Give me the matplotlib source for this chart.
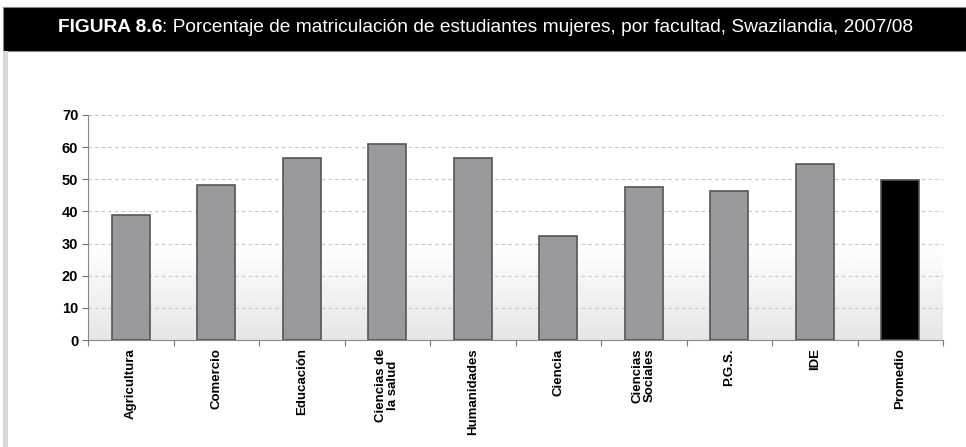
import numpy as np
import matplotlib
matplotlib.use('Agg')
import matplotlib.pyplot as plt
from matplotlib.patches import Rectangle

# datos
facultades = ['Agricultura', 'Comercio', 'Educación', 'Ciencias de\nla salud', 'Humanidades',
              'Ciencia', 'Ciencias\nSociales', 'P.G.S.', 'IDE', 'Promedio']
porcentajes = [39, 48.1, 56.6, 61.0, 56.6, 32.4, 47.5, 46.5, 54.8, 49.7]
colores = ['#9a9a9c'] * 9 + ['#000000']
yticks = [0, 10, 20, 30, 40, 50, 60, 70]

plt.rcParams['font.family'] = ['Liberation Sans', 'DejaVu Sans']

fig = plt.figure(figsize=(9.66, 4.47), dpi=100)
fig.patch.set_facecolor('white')

# cabecera negra
fig.patches.append(Rectangle((3 / 966, 1 - 51 / 447), 963 / 966, 44 / 447,
                             transform=fig.transFigure, facecolor='black', edgecolor='#888888', lw=0.8))
# borde izquierdo gris
fig.patches.append(Rectangle((3 / 966, 0), 5 / 966, 1 - 51 / 447,
                             transform=fig.transFigure, facecolor='#d8d8d8', edgecolor='none'))
t1 = fig.text(58 / 966, 1 - 28 / 447, 'FIGURA 8.6', color='white', fontsize=13.8,
              fontweight='bold', va='center')
fig.canvas.draw()
bb = t1.get_window_extent()
fig.text(bb.x1 / 966, 1 - 28 / 447,
         ': Porcentaje de matriculación de estudiantes mujeres, por facultad, Swazilandia, 2007/08',
         color='white', fontsize=13.8, va='center')

ax = fig.add_axes([88 / 966, 1 - 340 / 447, 855 / 966, 225 / 447])
x = np.arange(len(facultades))

# fondo degradado
grad = np.ones((100, 1))
yy = np.linspace(0, 70, 100)
grad[:, 0] = np.where(yy < 30, 0.90 + 0.10 * yy / 30, 1.0)
ax.imshow(grad, extent=(-0.5, len(facultades) - 0.5, 0, 70), origin='lower', aspect='auto',
          cmap='gray', vmin=0, vmax=1, zorder=0)

ax.bar(x, porcentajes, width=0.45, color=colores, edgecolor='#555555', linewidth=1.2, zorder=3)

ax.set_xlim(-0.5, len(facultades) - 0.5)
ax.set_ylim(0, 70)
ax.set_yticks(yticks)
ax.set_yticklabels([str(v) for v in yticks], fontsize=10.5, fontweight='bold')
ax.yaxis.grid(True, color='#c4c4c4', linestyle=(0, (3, 3)), linewidth=0.8, zorder=1)
ax.set_axisbelow(True)

ax.set_xticks(np.arange(len(facultades) + 1) - 0.5, minor=False)
ax.set_xticklabels([''] * (len(facultades) + 1))
ax.set_xticks(x, minor=True)
ax.set_xticklabels(facultades, minor=True, rotation=90, fontsize=9.5, fontweight='bold',
                   va='top', ha='center', linespacing=1.0)
ax.tick_params(axis='x', which='minor', length=0, pad=6)
ax.tick_params(axis='x', which='major', length=4, color='#777777', direction='out')
ax.tick_params(axis='y', length=4, color='#777777', pad=3)

for s in ['top', 'right']:
    ax.spines[s].set_visible(False)
ax.spines['left'].set_color('#888888')
ax.spines['bottom'].set_color('#888888')

fig.savefig('out.png', dpi=100)
